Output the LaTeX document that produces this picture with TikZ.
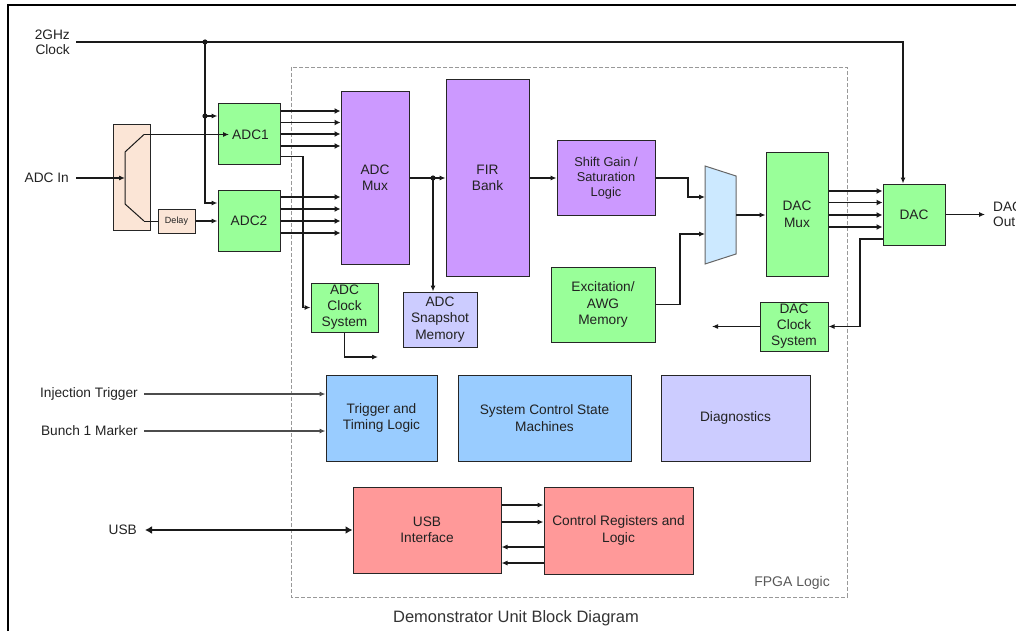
\documentclass[tikz,border=0pt]{standalone}
\usepackage{fontspec}
\setmainfont{Liberation Sans}
\usetikzlibrary{arrows.meta,calc}
\definecolor{cgreen}{HTML}{99FF99}
\definecolor{cpurple}{HTML}{CC99FF}
\definecolor{clav}{HTML}{CCCCFF}
\definecolor{cblue}{HTML}{99CCFF}
\definecolor{cpink}{HTML}{FF9999}
\definecolor{cpeach}{HTML}{FBE5D6}
\definecolor{cmux}{HTML}{CCE9FF}
\definecolor{ctext}{HTML}{222222}
\definecolor{cline}{HTML}{1A1A1A}
\begin{document}
\begin{tikzpicture}[x=1pt,y=-1pt,
  blk/.style={draw=black!85,line width=1pt,align=center,inner sep=1pt,
    text=ctext,font=\fontsize{13.7}{16.5}\selectfont},
  lbl/.style={text=ctext,font=\fontsize{13.7}{15}\selectfont,inner sep=0pt},
  arr/.style={draw=cline,line width=1.1pt,-{Latex[length=6pt,width=5pt]}},
  bus/.style={draw=cline,line width=1.7pt,-{Latex[length=6pt,width=6pt]}},
  dot/.style={fill=cline}]
\useasboundingbox (0,0) rectangle (1016,631);
% outer frame
\draw[line width=1.2pt,black] (8,631) -- (8,5) -- (1016,5);
% FPGA dashed frame
\draw[gray!80,dashed,line width=0.8pt,dash pattern=on 4pt off 2pt] (291,67) rectangle (847,597);
\node[anchor=east,text=black!65,font=\fontsize{14}{16}\selectfont,inner sep=0pt] (fpga) at (830,583) {FPGA Logic};
% caption
\node[text=black!80,font=\fontsize{16.5}{19}\selectfont,inner sep=0pt] (cap) at (516,618) {Demonstrator Unit Block Diagram};

% blocks
\node[blk,fill=cpeach,minimum width=37pt,minimum height=105pt] (split) at (131.5,177.5) {};
\node[blk,fill=cpeach,minimum width=37pt,minimum height=24pt,font=\fontsize{9}{11}\selectfont] (delay) at (176.5,221) {Delay};
\node[blk,fill=cgreen,minimum width=62pt,minimum height=61pt] (adc1) at (249,134.5) {\hspace{3pt}ADC1};
\node[blk,fill=cgreen,minimum width=62pt,minimum height=61pt] (adc2) at (249,220.5) {ADC2};
\node[blk,fill=cpurple,minimum width=68pt,minimum height=172pt] (adcmux) at (375,178) {ADC\\Mux};
\node[blk,fill=cpurple,minimum width=83pt,minimum height=196pt] (fir) at (487.5,178) {FIR\\Bank};
\node[blk,fill=clav,minimum width=74pt,minimum height=55pt] (snap) at (440,319.5) {ADC\\Snapshot\\Memory};
\node[blk,fill=cgreen,minimum width=67pt,minimum height=49pt,font=\fontsize{13.7}{16}\selectfont] (adcclk) at (344.5,307.5) {ADC\\Clock\\System};
\node[blk,fill=cpurple,minimum width=98pt,minimum height=74pt,font=\fontsize{12.8}{14.8}\selectfont] (shift) at (606,178) {Shift Gain /\\Saturation\\Logic};
\node[blk,fill=cgreen,minimum width=104pt,minimum height=75pt] (awg) at (603,304.5) {Excitation/\\AWG\\Memory};
\node[blk,fill=cgreen,minimum width=62pt,minimum height=123pt] (dacmux) at (797,214.5) {DAC\\Mux};
\node[blk,fill=cgreen,minimum width=62pt,minimum height=61pt] (dac) at (914,214.5) {DAC};
\node[blk,fill=cgreen,minimum width=68pt,minimum height=49pt,font=\fontsize{13.7}{16}\selectfont] (dacclk) at (794,326.5) {DAC\\Clock\\System};
\node[blk,fill=cblue,minimum width=111pt,minimum height=86pt] (trig) at (381.5,418) {Trigger and\\Timing Logic};
\node[blk,fill=cblue,minimum width=173pt,minimum height=86pt] (sysctl) at (544.5,418) {System Control State\\Machines};
\node[blk,fill=clav,minimum width=149pt,minimum height=86pt] (diag) at (735.5,418) {Diagnostics};
\node[blk,fill=cpink,minimum width=148pt,minimum height=86pt] (usb) at (427,530) {USB\\Interface};
\node[blk,fill=cpink,minimum width=149pt,minimum height=87pt] (ctrl) at (618.5,530.5) {Control Registers and\\Logic};

% output mux trapezoid
\draw[draw=black!60,line width=1pt,fill=cmux] (705,166) -- (736,176) -- (736,254) -- (705,264) -- cycle;
\coordinate (muxin1) at (705,197);
\coordinate (muxin2) at (705,234);
\coordinate (muxout) at (736,215);

% labels
\node[lbl,anchor=east,align=right] (clk) at (70,42) {2GHz\\Clock};
\node[lbl,anchor=east] (adcin) at (69,178) {ADC In};
\node[lbl,anchor=west,align=left] (dacoutl) at (993,214.5) {DAC\\Out};
\node[lbl,anchor=east] (inj) at (138,394) {Injection Trigger};
\node[lbl,anchor=east] (bunch) at (138,431) {Bunch 1 Marker};
\node[lbl,anchor=east] (usbl) at (137,530) {USB};

% clock distribution
\coordinate (j1) at (205,42);
\coordinate (j2) at (205,116);
\draw[arr] ([xshift=6pt]clk.east |- j1) -| ([xshift=-11pt]dac.north);
\draw[arr] (j1) |- ([yshift=17.5pt]adc2.west);
\draw[arr] (j2) -- (j2 -| adc1.west);
\fill[dot] (j1) circle (2.6pt);
\fill[dot] (j2) circle (2.6pt);

% splitter
\coordinate (spin) at (125,178);
\coordinate (spa) at (144,134.5);
\coordinate (spb) at (144,221);
\coordinate (adc1in) at (229,134.5);
\draw[arr] ([xshift=7pt]adcin.east) -- (spin);
\draw[cline,line width=1pt] (spa) -- (125,152) -- (125,204) -- (spb);
\draw[arr] (spa) -- (adc1in);
\draw[cline,line width=1pt] (spb) -- (delay.west);
\draw[arr] (delay.east) -- (delay.east -| adc2.west);

% ADC buses
\foreach \y in {111,122.5,134,146,197,209,221,233}{
  \path (0,\y) coordinate (t);
  \draw[bus] (adc1.east |- t) -- (adcmux.west |- t);
}
% ADC clock
\coordinate (k) at (303,156.5);
\draw[arr] (adc1.east |- k) -- (k) |- (adcclk.west);
\coordinate (adcclkout) at (378,357);
\draw[arr] (adcclk.south) |- (adcclkout);

% ADC mux -> FIR, snapshot
\coordinate (j3) at (433,178);
\draw[arr] (adcmux.east) -- (fir.west);
\draw[arr] (j3) -- (j3 |- snap.north);
\fill[dot] (j3) circle (2.6pt);
\draw[arr] (fir.east) -- (shift.west);

% to output mux
\draw[arr] (shift.east) -- (688,178) |- (muxin1);
\draw[arr] (awg.east) -- (680,304.5) |- (muxin2);
\draw[arr] (muxout) -- (muxout -| dacmux.west);

% DAC buses
\foreach \y in {191,202.5,215,227}{
  \path (0,\y) coordinate (t);
  \draw[bus] (dacmux.east |- t) -- (dac.west |- t);
}
\coordinate (dacout) at (985,214.5);
\draw[arr] (dac.east) -- (dacout);
\coordinate (dk) at (860,239);
\draw[arr] (dac.west |- dk) -- (dk) |- (dacclk.east);
\coordinate (dacclkout) at (712,326.5);
\draw[arr] (dacclk.west) -- (dacclkout);

% triggers
\draw[arr,draw=black!70] ([xshift=6pt]inj.east) -- (inj.east -| trig.west);
\draw[arr,draw=black!70] ([xshift=6pt]bunch.east) -- (bunch.east -| trig.west);

% USB
\draw[cline,line width=2.6pt,{Latex[length=7pt,width=8pt]}-{Latex[length=7pt,width=8pt]}] ([xshift=8pt]usbl.east) -- (usbl.east -| usb.west);
\foreach \y in {505,522}{
  \path (0,\y) coordinate (t);
  \draw[arr] (usb.east |- t) -- (ctrl.west |- t);
}
\foreach \y in {547,563}{
  \path (0,\y) coordinate (t);
  \draw[arr] (ctrl.west |- t) -- (usb.east |- t);
}
\end{tikzpicture}
\end{document}
